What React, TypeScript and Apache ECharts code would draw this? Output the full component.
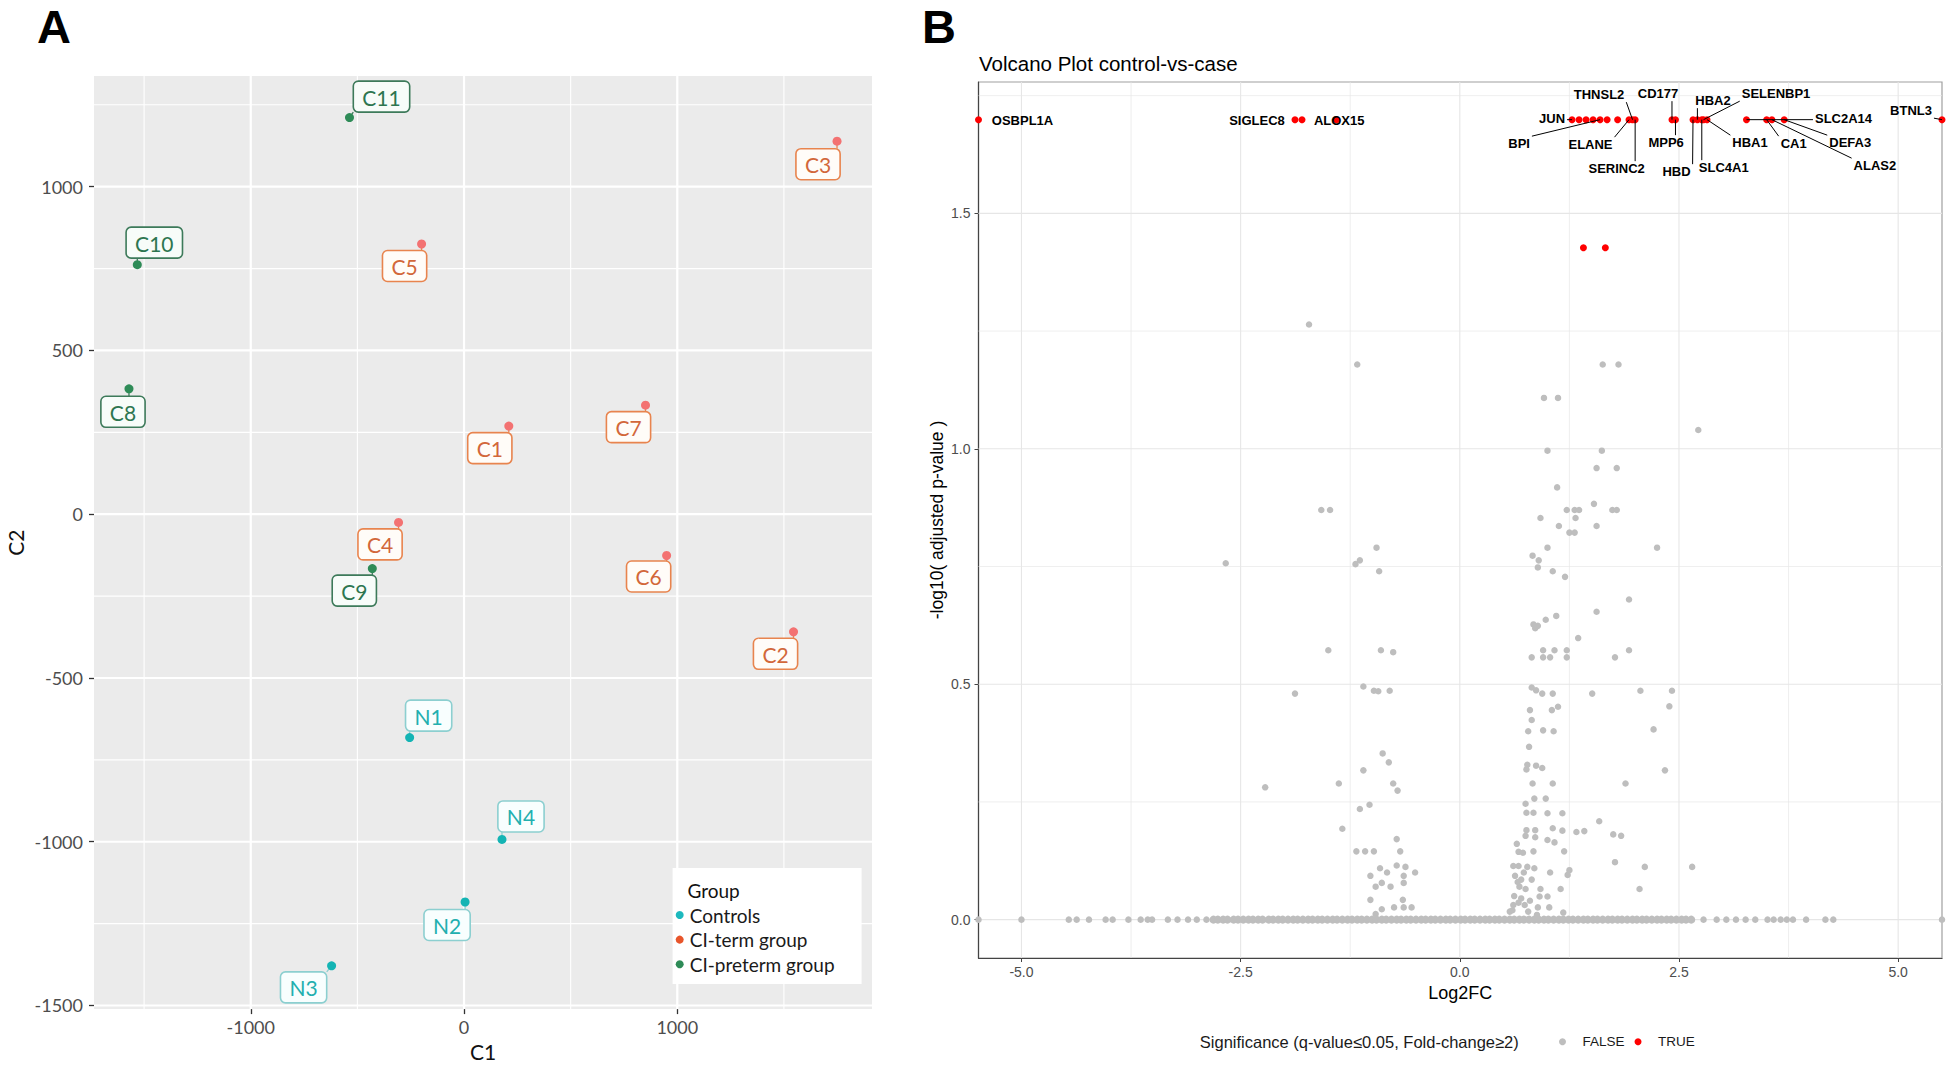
import React, { useEffect, useRef } from "react";
import * as echarts from "echarts";

// ---------------- Panel A (MDS plot) ----------------
const groupNames = ["Controls", "CI-term group", "CI-preterm group"];
const controlSamples = ["N1", "N2", "N3", "N4"];
const controlC1 = [-255, 5, -621, 178];
const controlC2 = [-682, -1184, -1379, -993];
const termSamples = ["C1", "C2", "C3", "C4", "C5", "C6", "C7"];
const termC1 = [210, 1545, 1749, -307, -199, 950, 851];
const termC2 = [269, -359, 1139, -25, 825, -126, 333];
const pretermSamples = ["C8", "C9", "C10", "C11"];
const pretermC1 = [-1571, -430, -1532, -537];
const pretermC2 = [383, -166, 762, 1211];
const aXTicks = [-1000, 0, 1000];
const aYTicks = [-1500, -1000, -500, 0, 500, 1000];
const aXMinor = [-1500, -500, 500, 1500];
const aYMinor = [-1250, -750, -250, 250, 750, 1250];

// ---------------- Panel B (volcano plot) ----------------
const sigGenes = ["OSBPL1A", "SIGLEC8", "", "ALOX15", "JUN", "", "", "", "BPI", "", "", "ELANE", "THNSL2", "SERINC2",
  "CD177", "MPP6", "HBD", "HBA2", "SLC4A1", "SELENBP1", "HBA1", "SLC2A14", "CA1", "ALAS2", "DEFA3", "BTNL3", "", ""];
const sigLog2FC = [-5.49, -1.88, -1.8, -1.41, 1.28, 1.36, 1.44, 1.52, 1.6, 1.68, 1.8, 1.93, 1.97, 2.0,
  2.42, 2.46, 2.66, 2.71, 2.76, 2.78, 2.82, 3.27, 3.5, 3.56, 3.7, 5.5, 1.41, 1.66];
const sigLogP = [1.699, 1.699, 1.699, 1.699, 1.699, 1.699, 1.699, 1.699, 1.699, 1.699, 1.699, 1.699, 1.699, 1.699,
  1.699, 1.699, 1.699, 1.699, 1.699, 1.699, 1.699, 1.699, 1.699, 1.699, 1.699, 1.699, 1.427, 1.427];

const nsLog2FC = [-1.72, -1.17, 1.63, 1.81, 0.96, 1.12, 2.72, 1.0, 1.62, 1.56, 1.79, 1.11, -1.58, -1.48, 1.53, 1.22, 1.31, 1.36,
  1.74, 1.79, 0.92, 1.32, 1.13, 1.56, 1.25, 1.31, -0.95, 1.0, 2.25, -1.14, -1.19, 0.83, 0.9, 0.89, -0.92, 1.06, 1.2, 1.93,
  1.56, 1.1, 0.98, 0.84, 0.89, 0.86, 1.35, -1.5, -0.9, -0.76, 0.95, 1.08, 1.22, 1.93, 0.82, 0.95, 1.03, 1.22, 1.77, -1.88,
  -1.1, -0.98, -0.93, -0.8, 0.82, 0.87, 0.94, 1.06, 1.51, 2.06, 2.42, 2.39, 0.8, 1.05, 1.12, 0.82, 0.78, 0.95, 1.07, 2.21,
  0.79, -0.88, -0.81, -1.1, 0.77, 0.76, 0.87, 0.94, 2.34, -1.38, -0.76, -0.71, 0.83, 1.06, 1.89, 0.85, 0.98, -1.14, -1.03,
  0.75, 0.76, 0.84, 1.0, 1.17, 1.59, -1.34, 0.76, 0.86, 1.06, 1.17, 1.33, 1.42, 1.75, 1.84, -0.72, 0.75, 0.86, 1.0, 1.08,
  0.65, -1.18, -1.08, -0.98, -0.68, 0.67, 0.72, 0.84, 1.19, 1.77, 2.11, 2.65, -0.91, -0.72, -0.62, 0.61, 0.67, 0.77, 0.85,
  -1.02, -0.83, -0.64, -0.51, 1.03, 1.25, 1.23, 0.63, 0.7, -0.96, -0.89, -0.79, -0.64, 0.68, 0.75, 0.92, 1.15, 2.05, -1.02,
  -0.65, 0.91, 1.0, -0.75, -0.64, -0.55, -0.89, -0.96, 0.61, 0.67, 0.74, 0.89, 1.02, 1.18, 0.57, 0.78, -2.67, -2.22,
  0.62, 0.7, 0.8, 0.73, 0.66, 0.82, 0.6, 0.88];
const nsLogP = [1.264, 1.179, 1.179, 1.179, 1.108, 1.108, 1.04, 0.996, 0.996, 0.959, 0.959, 0.918, 0.87, 0.87, 0.883, 0.87, 0.87, 0.87,
  0.87, 0.87, 0.853, 0.853, 0.836, 0.836, 0.822, 0.822, 0.79, 0.79, 0.79, 0.763, 0.755, 0.773, 0.763, 0.748, 0.74, 0.74, 0.728, 0.68,
  0.654, 0.645, 0.637, 0.627, 0.624, 0.619, 0.598, 0.572, 0.572, 0.568, 0.572, 0.572, 0.572, 0.572, 0.557, 0.557, 0.557, 0.557, 0.557, 0.48,
  0.495, 0.486, 0.485, 0.486, 0.493, 0.487, 0.48, 0.48, 0.48, 0.486, 0.486, 0.453, 0.445, 0.445, 0.452, 0.424, 0.4, 0.402, 0.4, 0.404,
  0.367, 0.353, 0.334, 0.317, 0.329, 0.319, 0.327, 0.322, 0.317, 0.289, 0.289, 0.274, 0.289, 0.289, 0.289, 0.257, 0.257, 0.235, 0.244,
  0.246, 0.227, 0.227, 0.226, 0.226, 0.209, 0.193, 0.19, 0.19, 0.194, 0.189, 0.186, 0.188, 0.181, 0.178, 0.171, 0.178, 0.175, 0.169, 0.164,
  0.161, 0.145, 0.145, 0.145, 0.145, 0.144, 0.142, 0.145, 0.145, 0.122, 0.112, 0.112, 0.109, 0.115, 0.112, 0.114, 0.114, 0.112, 0.109,
  0.093, 0.1, 0.093, 0.1, 0.1, 0.105, 0.095, 0.093, 0.085, 0.07, 0.078, 0.07, 0.078, 0.07, 0.065, 0.065, 0.065, 0.065, 0.042,
  0.042, 0.049, 0.049, 0.026, 0.026, 0.026, 0.022, 0.012, 0.031, 0.036, 0.031, 0.026, 0.026, 0.015, 0.017, 0.017, 0.757, 0.281,
  0.05, 0.045, 0.04, 0.1, 0.08, 0.085, 0.02, 0.01];
// genes with -log10(adj p) = 0: sparse tails and the dense band along the baseline
const nsBaselineSparseLog2FC = [-5.49, -5.0, -4.46, -4.37, -4.23, -4.04, -3.96, -3.78, -3.64, -3.56, -3.51, -3.33, -3.22, -3.1,
  -3.0, -2.89, 2.78, 2.93, 3.04, 3.15, 3.26, 3.37, 3.51, 3.58, 3.66, 3.73, 3.8, 3.95, 4.17, 4.26, 5.5];
const nsBaselineDenseLog2FC = [-2.81, -2.76, -2.7, -2.65, -2.58, -2.53, -2.47, -2.41, -2.36, -2.3, -2.25, -2.18, -2.13, -2.07,
  -2.02, -1.96, -1.9, -1.85, -1.79, -1.73, -1.68, -1.62, -1.57, -1.51, -1.45, -1.4, -1.34, -1.28, -1.23, -1.17, -1.12, -1.06,
  -1.0, -0.95, -0.89, -0.84, -0.78, -0.72, -0.67, -0.61, -0.56, -0.5, -0.44, -0.39, -0.33, -0.28, -0.22, -0.16, -0.11, -0.05,
  0.01, 0.06, 0.12, 0.17, 0.23, 0.29, 0.34, 0.4, 0.45, 0.51, 0.57, 0.62, 0.68, 0.73, 0.79, 0.85, 0.9, 0.96, 1.01, 1.07, 1.13,
  1.18, 1.24, 1.29, 1.35, 1.41, 1.46, 1.52, 1.57, 1.63, 1.69, 1.74, 1.8, 1.85, 1.91, 1.97, 2.02, 2.08, 2.13, 2.19, 2.25, 2.3,
  2.36, 2.41, 2.47, 2.53, 2.58, 2.64];
const bXTicks = [-5, -2.5, 0, 2.5, 5];
const bYTicks = [0, 0.5, 1, 1.5];
const bXMinor = [-3.75, -1.25, 1.25, 3.75];
const bYMinor = [0.25, 0.75, 1.25, 1.75];

// ---------------- layout / style (not data) ----------------
const aLabelOffset: Record<string, [number, number]> = {
  N1: [19, -22], N2: [-18, 23], N3: [-28, 21.5], N4: [19, -23],
  C1: [-19, 22], C2: [-18, 22], C3: [-19, 23], C4: [-18.5, 22], C5: [-17, 22], C6: [-18, 21], C7: [-17, 22],
  C8: [-6, 23], C9: [-18, 22], C10: [17, -22], C11: [32, -21],
};
const aStyles = [
  { point: "#14B4B4", border: "#8CCFD0", text: "#22AFAF", bg: "#F8FEFE", legend: "#1DB9BE" },
  { point: "#F37272", border: "#E8844E", text: "#D2673A", bg: "#FFFCF8", legend: "#E8552B" },
  { point: "#2E8B57", border: "#3D7A5A", text: "#2D7650", bg: "#F7FCF9", legend: "#2E8B57" },
];
// [dx, dy, drawSegment]
const bLabelOffset: Record<string, [number, number, boolean]> = {
  OSBPL1A: [44, 0.5, false], SIGLEC8: [-38, 0.5, false], ALOX15: [3, 0.5, false], JUN: [-20, -1, true],
  BPI: [-81, 24, true], ELANE: [-38.5, 25, true], THNSL2: [-33.5, -25, true], SERINC2: [-18.5, 49, true],
  CD177: [-14, -26, true], MPP6: [-9.4, 23, true], HBD: [-16.5, 52, true], HBA2: [15.6, -19, true],
  SLC4A1: [22, 48, true], SELENBP1: [72.5, -26, true], HBA1: [43, 23, true], SLC2A14: [97, -1, true],
  CA1: [27, 24, true], ALAS2: [103, 46, true], DEFA3: [66, 23, true], BTNL3: [-31, -9, true],
};

const FA = "Lato";
const FB = '"Liberation Sans", Arial, sans-serif';

let measureCtx: CanvasRenderingContext2D | null = null;
function textWidth(t: string, font: string) {
  if (!measureCtx) measureCtx = document.createElement("canvas").getContext("2d");
  if (!measureCtx) return t.length * 10;
  measureCtx.font = font;
  return measureCtx.measureText(t).width;
}
const clamp = (v: number, a: number, b: number) => Math.max(a, Math.min(b, v));

function gridLineSeries(axisIdx: number, values: number[], majors: number[], vertical: boolean,
  color: string, majorW: number, minorW: number) {
  return {
    type: "custom", xAxisIndex: axisIdx, yAxisIndex: axisIdx, z: 1, silent: true, clip: false,
    data: values.map((v) => (vertical ? [v, 0] : [0, v])),
    renderItem: (params: any, api: any) => {
      const cs = params.coordSys;
      const v = vertical ? api.value(0) : api.value(1);
      const w = majors.indexOf(v) >= 0 ? majorW : minorW;
      if (vertical) {
        const x = api.coord([v, 0])[0];
        return { type: "line", shape: { x1: x, y1: cs.y, x2: x, y2: cs.y + cs.height }, style: { stroke: color, lineWidth: w } };
      }
      const y = api.coord([0, v])[1];
      return { type: "line", shape: { x1: cs.x, y1: y, x2: cs.x + cs.width, y2: y }, style: { stroke: color, lineWidth: w } };
    },
  };
}

function aLabelSeries(names: string[], xs: number[], ys: number[], st: any) {
  const font = `21px ${FA}`;
  return {
    type: "custom", xAxisIndex: 0, yAxisIndex: 0, z: 2, silent: true, clip: false,
    data: xs.map((x, i) => [x, ys[i]]),
    renderItem: (params: any, api: any) => {
      const name = names[params.dataIndex];
      const off = aLabelOffset[name] || [0, 0];
      const p = api.coord([api.value(0), api.value(1)]);
      const cx = p[0] + off[0], cy = p[1] + off[1];
      const w = textWidth(name, font) + 18, h = 31;
      const l = cx - w / 2, r = cx + w / 2, t = cy - h / 2, b = cy + h / 2;
      const qx = clamp(p[0], l, r), qy = clamp(p[1], t, b);
      const children: any[] = [];
      if (Math.hypot(qx - p[0], qy - p[1]) > 4) {
        children.push({ type: "line", shape: { x1: p[0], y1: p[1], x2: qx, y2: qy }, style: { stroke: st.border, lineWidth: 1.3 } });
      }
      children.push({ type: "rect", shape: { x: l, y: t, width: w, height: h, r: 5 }, style: { fill: st.bg, stroke: st.border, lineWidth: 1.6 } });
      children.push({ type: "text", x: cx, y: cy + 0.5, style: { text: name, font, fill: st.text, align: "center", verticalAlign: "middle" } });
      return { type: "group", children };
    },
  };
}

function buildOption() {
  const bFontLbl = `bold 13px ${FB}`;
  return {
    animation: false,
    grid: [
      { left: 94, top: 76, width: 778, height: 937, show: true, backgroundColor: "#EBEBEB", borderWidth: 0 },
      { left: 978.5, top: 82, width: 963.5, height: 876, show: true, backgroundColor: "#FFFFFF", borderColor: "#A0A0A0", borderWidth: 1.2 },
    ],
    xAxis: [
      {
        gridIndex: 0, type: "value", min: -1735, max: 1913,
        axisLine: { show: false, onZero: false },
        axisTick: { show: true, customValues: aXTicks, length: 5, lineStyle: { color: "#333", width: 1.3 } },
        axisLabel: { customValues: aXTicks, margin: 9, color: "#4D4D4D", fontSize: 18, fontFamily: FA, formatter: (v: number) => String(v) },
        splitLine: { show: false },
        name: "C1", nameLocation: "middle", nameGap: 31, nameTextStyle: { fontSize: 21, fontFamily: FA, color: "#111" },
      },
      {
        gridIndex: 1, type: "value", min: -5.49, max: 5.5,
        axisLine: { show: true, onZero: false, lineStyle: { color: "#444", width: 1.2 } },
        axisTick: { show: true, customValues: bXTicks, length: 4, lineStyle: { color: "#444", width: 1 } },
        axisLabel: { customValues: bXTicks, margin: 7, color: "#4D4D4D", fontSize: 14, fontFamily: FB, formatter: (v: number) => v.toFixed(1) },
        splitLine: { show: false },
        name: "Log2FC", nameLocation: "middle", nameGap: 25, nameTextStyle: { fontSize: 18, fontFamily: FB, color: "#000" },
      },
    ],
    yAxis: [
      {
        gridIndex: 0, type: "value", min: -1511, max: 1338,
        axisLine: { show: false, onZero: false },
        axisTick: { show: true, customValues: aYTicks, length: 5, lineStyle: { color: "#333", width: 1.3 } },
        axisLabel: { customValues: aYTicks, margin: 11, color: "#4D4D4D", fontSize: 18, fontFamily: FA, formatter: (v: number) => String(v) },
        splitLine: { show: false },
        name: "C2", nameLocation: "middle", nameGap: 68, nameTextStyle: { fontSize: 21, fontFamily: FA, color: "#111" },
      },
      {
        gridIndex: 1, type: "value", min: -0.0815, max: 1.779,
        axisLine: { show: true, onZero: false, lineStyle: { color: "#444", width: 1.2 } },
        axisTick: { show: true, customValues: bYTicks, length: 4, lineStyle: { color: "#444", width: 1 } },
        axisLabel: { customValues: bYTicks, margin: 8, color: "#4D4D4D", fontSize: 14, fontFamily: FB, formatter: (v: number) => v.toFixed(1) },
        splitLine: { show: false },
        name: "-log10( adjusted p-value )", nameLocation: "middle", nameGap: 33, nameTextStyle: { fontSize: 17.5, fontFamily: FB, color: "#000" },
      },
    ],
    legend: [
      {
        data: groupNames.map((n, i) => ({ name: n, itemStyle: { color: aStyles[i].legend } })),
        orient: "vertical", left: 675.7, top: 905.5, padding: 0, itemWidth: 10, itemHeight: 8, itemGap: 5.6,
        icon: "circle", selectedMode: false, z: 5,
        textStyle: { fontFamily: FA, fontSize: 19, color: "#1a1a1a", lineHeight: 19 },
      },
      {
        data: ["FALSE", "TRUE"], orient: "horizontal", left: 1559, top: 1034.7, padding: 0,
        itemWidth: 30, itemHeight: 7, itemGap: 10, icon: "circle", selectedMode: false, z: 5,
        textStyle: { fontFamily: FB, fontSize: 13.5, color: "#1a1a1a", lineHeight: 14 },
      },
    ],
    graphic: [
      { type: "text", x: 37, y: 26, style: { text: "A", font: `bold 47px ${FB}`, fill: "#000", verticalAlign: "middle" } },
      { type: "text", x: 922, y: 26, style: { text: "B", font: `bold 47px ${FB}`, fill: "#000", verticalAlign: "middle" } },
      { type: "text", x: 979, y: 63, style: { text: "Volcano Plot control-vs-case", font: `20.5px ${FB}`, fill: "#000", verticalAlign: "middle" } },
      { type: "rect", z: 3, shape: { x: 672.6, y: 868, width: 189, height: 116 }, style: { fill: "#FFFFFF" } },
      { type: "text", z: 4, x: 687.5, y: 890, style: { text: "Group", font: `19px ${FA}`, fill: "#111", verticalAlign: "middle" } },
      { type: "text", x: 1199.8, y: 1041.7, style: { text: "Significance (q-value\u22640.05, Fold-change\u22652)", font: `16.5px ${FB}`, fill: "#1a1a1a", verticalAlign: "middle" } },
    ],
    series: [
      gridLineSeries(0, [...aXTicks, ...aXMinor], aXTicks, true, "#FFFFFF", 2.2, 1.1),
      gridLineSeries(0, [...aYTicks, ...aYMinor], aYTicks, false, "#FFFFFF", 2.2, 1.1),
      aLabelSeries(controlSamples, controlC1, controlC2, aStyles[0]),
      aLabelSeries(termSamples, termC1, termC2, aStyles[1]),
      aLabelSeries(pretermSamples, pretermC1, pretermC2, aStyles[2]),
      {
        type: "scatter", name: groupNames[0], xAxisIndex: 0, yAxisIndex: 0, z: 3, symbolSize: 9,
        data: controlC1.map((x, i) => [x, controlC2[i]]), itemStyle: { color: aStyles[0].point, opacity: 1 }, emphasis: { disabled: true },
      },
      {
        type: "scatter", name: groupNames[1], xAxisIndex: 0, yAxisIndex: 0, z: 3, symbolSize: 9,
        data: termC1.map((x, i) => [x, termC2[i]]), itemStyle: { color: aStyles[1].point, opacity: 1 }, emphasis: { disabled: true },
      },
      {
        type: "scatter", name: groupNames[2], xAxisIndex: 0, yAxisIndex: 0, z: 3, symbolSize: 9,
        data: pretermC1.map((x, i) => [x, pretermC2[i]]), itemStyle: { color: aStyles[2].point, opacity: 1 }, emphasis: { disabled: true },
      },
      gridLineSeries(1, [...bXTicks, ...bXMinor], bXTicks, true, "#E6E6E6", 1.1, 0.7),
      gridLineSeries(1, [...bYTicks, ...bYMinor], bYTicks, false, "#E6E6E6", 1.1, 0.7),
      {
        type: "scatter", name: "FALSE", xAxisIndex: 1, yAxisIndex: 1, z: 3, symbolSize: 6.5,
        data: [...nsBaselineSparseLog2FC.map((x) => [x, 0]), ...nsLog2FC.map((x, i) => [x, nsLogP[i]])],
        itemStyle: { color: "#BEBEBE", opacity: 1 }, emphasis: { disabled: true },
      },
      {
        type: "scatter", name: "FALSE", xAxisIndex: 1, yAxisIndex: 1, z: 3, symbolSize: 8,
        data: nsBaselineDenseLog2FC.map((x) => [x, 0]),
        itemStyle: { color: "#BEBEBE", opacity: 1 }, emphasis: { disabled: true },
      },
      {
        type: "scatter", name: "TRUE", xAxisIndex: 1, yAxisIndex: 1, z: 3, symbolSize: 7,
        data: sigLog2FC.map((x, i) => [x, sigLogP[i]]),
        itemStyle: { color: "#FF0000", opacity: 1 }, emphasis: { disabled: true },
      },
      {
        type: "custom", xAxisIndex: 1, yAxisIndex: 1, z: 5, silent: true, clip: false,
        data: sigLog2FC.map((x, i) => [x, sigLogP[i]]),
        renderItem: (params: any, api: any) => {
          const name = sigGenes[params.dataIndex];
          const off = bLabelOffset[name];
          if (!name || !off) return { type: "group", children: [] };
          const p = api.coord([api.value(0), api.value(1)]);
          const cx = p[0] + off[0], cy = p[1] + off[1];
          const w = textWidth(name, bFontLbl), h = 11;
          const l = cx - w / 2 - 2, r = cx + w / 2 + 2, t = cy - h / 2 - 2, b = cy + h / 2 + 2;
          const qx = clamp(p[0], l, r), qy = clamp(p[1], t, b);
          const children: any[] = [];
          if (off[2] && Math.hypot(qx - p[0], qy - p[1]) > 3) {
            children.push({ type: "line", shape: { x1: qx, y1: qy, x2: p[0], y2: p[1] }, style: { stroke: "#000", lineWidth: 1 } });
          }
          children.push({ type: "text", x: cx, y: cy, style: { text: name, font: bFontLbl, fill: "#000", align: "center", verticalAlign: "middle" } });
          return { type: "group", children };
        },
      },
    ],
  };
}

export default function App() {
  const ref = useRef<HTMLDivElement>(null);
  useEffect(() => {
    if (!ref.current) return;
    const chart = echarts.init(ref.current, null, { renderer: "svg" });
    chart.setOption(buildOption() as any);
    return () => chart.dispose();
  }, []);
  return (
    <div
      ref={ref}
      style={{ position: "fixed", left: 0, top: 0, width: 1946, height: 1067, background: "#FFFFFF" }}
    />
  );
}
